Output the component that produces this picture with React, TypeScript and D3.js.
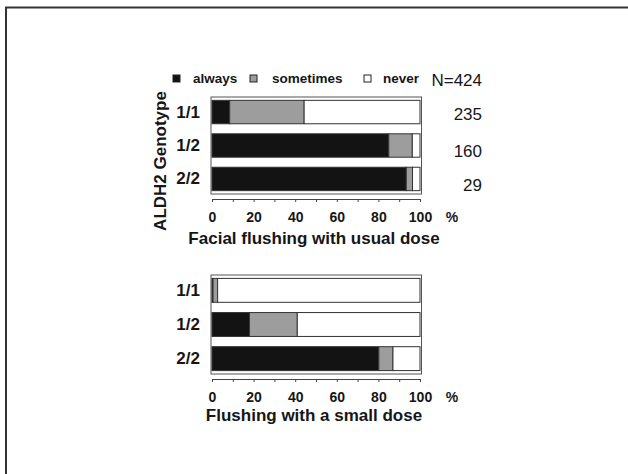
import React, { useEffect, useRef } from 'react';
import * as d3 from 'd3';

const genotypes = ['1/1', '1/2', '2/2'];
const counts = [235, 160, 29];
const categories = ['always', 'sometimes', 'never'];

// % of subjects, facial flushing with usual dose
const usualAlways = [8.5, 85, 93.4];
const usualSometimes = [35.8, 11.3, 3];
// % of subjects, flushing with a small dose
const smallAlways = [0.5, 18, 80.2];
const smallSometimes = [2.2, 23, 6.8];

const ticks = [0, 10, 20, 30, 40, 50, 60, 70, 80, 90, 100];

const colors: Record<string, string> = { always: '#131313', sometimes: '#9d9d9d', never: '#ffffff' };
const font = '"Liberation Sans", Arial, sans-serif';
const ink = '#161616';

const buildRows = (always: number[], sometimes: number[]) =>
  genotypes.map((g, i) => ({
    genotype: g,
    always: always[i],
    sometimes: sometimes[i],
    never: 100 - always[i] - sometimes[i],
  }));

const App = () => {
  const ref = useRef<SVGSVGElement>(null);

  useEffect(() => {
    const svg = d3.select(ref.current);
    svg.selectAll('*').remove();

    svg.append('rect').attr('width', 628).attr('height', 474).attr('fill', '#fff');
    // picture frame (left and top edges)
    svg.append('path').attr('d', 'M6,474 V7.5 H628').attr('fill', 'none').attr('stroke', '#333').attr('stroke-width', 2);

    const x = d3.scaleLinear().domain([0, 100]).range([212, 420]);
    const stack = d3.stack<any>().keys(categories);

    const drawPanel = (rows: any[], top: number, bottom: number, axisY: number, title: string, titleY: number) => {
      const y = d3.scaleBand().domain(genotypes).range([top, bottom]).paddingInner(0.3).paddingOuter(0.1);
      const g = svg.append('g');

      g.append('rect')
        .attr('x', x(0) - 1).attr('y', top)
        .attr('width', x(100) - x(0) + 2.5).attr('height', bottom - top)
        .attr('fill', '#fff').attr('stroke', '#555').attr('stroke-width', 1);

      const series = stack(rows);
      g.selectAll('g.s')
        .data(series)
        .join('g')
        .attr('fill', d => colors[d.key])
        .selectAll('rect')
        .data(d => d)
        .join('rect')
        .attr('x', d => x(d[0]))
        .attr('y', d => y((d as any).data.genotype)!)
        .attr('width', d => Math.max(0, x(d[1]) - x(d[0])))
        .attr('height', y.bandwidth())
        .attr('stroke', '#333')
        .attr('stroke-width', 1);

      g.selectAll('text.cat')
        .data(genotypes)
        .join('text')
        .attr('x', 200)
        .attr('y', d => y(d)! + y.bandwidth() / 2 + 5.5)
        .attr('text-anchor', 'end')
        .attr('font-family', font)
        .attr('font-weight', 'bold')
        .attr('font-size', 17)
        .attr('fill', ink)
        .text(d => d);

      const axis = d3.axisBottom(x)
        .tickValues(ticks)
        .tickSize(3)
        .tickSizeOuter(0)
        .tickPadding(10)
        .tickFormat(d => (+d % 20 === 0 ? String(d) : ''));
      const ax = g.append('g').attr('transform', `translate(0,${axisY})`).call(axis);
      ax.select('.domain').attr('stroke', '#444');
      ax.selectAll('.tick line').attr('stroke', '#444');
      ax.selectAll('.tick text')
        .attr('font-family', font)
        .attr('font-weight', 'bold')
        .attr('font-size', 14)
        .attr('fill', ink);

      g.append('text')
        .attr('x', 452).attr('y', axisY + 23)
        .attr('text-anchor', 'middle')
        .attr('font-family', font).attr('font-weight', 'bold').attr('font-size', 14)
        .attr('fill', ink)
        .text('%');

      g.append('text')
        .attr('x', 314).attr('y', titleY)
        .attr('text-anchor', 'middle')
        .attr('font-family', font).attr('font-weight', 'bold').attr('font-size', 17)
        .attr('fill', ink)
        .text(title);

      return y;
    };

    const yTop = drawPanel(buildRows(usualAlways, usualSometimes), 97, 194, 199, 'Facial flushing with usual dose', 244);
    drawPanel(buildRows(smallAlways, smallSometimes), 275, 374, 379, 'Flushing with a small dose', 421);

    // sample sizes
    svg.selectAll('text.n')
      .data(genotypes)
      .join('text')
      .attr('x', 482)
      .attr('y', (d, i) => yTop(d)! + yTop.bandwidth() / 2 + [7.5, 11.5, 12][i])
      .attr('text-anchor', 'end')
      .attr('font-family', font).attr('font-size', 17)
      .attr('fill', ink)
      .text((d, i) => counts[i]);
    svg.append('text')
      .attr('x', 482).attr('y', 86)
      .attr('text-anchor', 'end')
      .attr('font-family', font).attr('font-size', 17)
      .attr('fill', ink)
      .text('N=' + d3.sum(counts));

    // legend
    const legendX = [173, 250, 364];
    const legend = svg.append('g');
    categories.forEach((c, i) => {
      legend.append('rect')
        .attr('x', legendX[i]).attr('y', 75)
        .attr('width', 7).attr('height', 7)
        .attr('fill', colors[c]).attr('stroke', '#222').attr('stroke-width', 1);
      legend.append('text')
        .attr('x', legendX[i] + [20, 22, 19][i]).attr('y', 82.5)
        .attr('font-family', font).attr('font-weight', 'bold').attr('font-size', 13.5)
        .attr('fill', ink)
        .text(c);
    });

    // y-axis title
    svg.append('text')
      .attr('transform', 'translate(165.5,161) rotate(-90)')
      .attr('text-anchor', 'middle')
      .attr('font-family', font).attr('font-weight', 'bold').attr('font-size', 17)
      .attr('fill', ink)
      .text('ALDH2 Genotype');
  }, []);

  return <svg ref={ref} width={628} height={474} style={{ position: 'absolute', left: 0, top: 0, display: 'block' }} />;
};

export default App;
